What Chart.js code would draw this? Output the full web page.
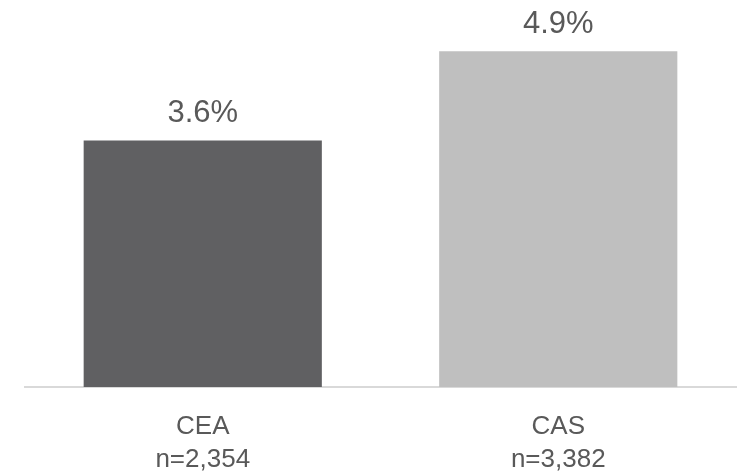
<!DOCTYPE html>
<html>
<head>
<meta charset="utf-8">
<script src="https://cdn.jsdelivr.net/npm/chart.js@4/dist/chart.umd.min.js"></script>
<style>
  html, body { margin: 0; padding: 0; background: #fff; }
  #wrap { width: 739px; height: 476px; position: relative; }
</style>
</head>
<body>
<div id="wrap"><canvas id="c"></canvas></div>
<script>
// categories (two-line tick labels) and values in percent
const categories = ["CEA", "CAS"];
const sampleSizes = ["n=2,354", "n=3,382"];
const shares = [3.6, 4.9];
const barColors = ["#606062", "#bfbfbf"];

const TEXT = "#595959";
const FONT = "'Liberation Sans', Arial, sans-serif";

/** Draw the "x.x%" value above each bar, using the bar elements' own positions. */
const valueLabels = {
  id: "valueLabels",
  afterDatasetsDraw(chart) {
    const { ctx } = chart;
    const meta = chart.getDatasetMeta(0);
    ctx.save();
    ctx.fillStyle = TEXT;
    ctx.font = "31px " + FONT;
    ctx.textAlign = "center";
    ctx.textBaseline = "alphabetic";
    meta.data.forEach((bar, i) => {
      ctx.fillText(shares[i].toFixed(1) + "%", bar.x, bar.y - 18);
    });
    ctx.restore();
  },
};

new Chart(document.getElementById("c"), {
  type: "bar",
  data: {
    labels: categories.map((c, i) => [c, sampleSizes[i]]),
    datasets: [
      {
        data: shares,
        backgroundColor: barColors,
        barPercentage: 0.67,
        categoryPercentage: 1,
      },
    ],
  },
  options: {
    responsive: true,
    maintainAspectRatio: false,
    animation: false,
    layout: { padding: { left: 25, right: 3, top: 0, bottom: -16 } },
    scales: {
      x: {
        grid: { display: false },
        border: { display: true, color: "#d9d9d9", width: 2 },
        ticks: {
          color: TEXT,
          font: { family: FONT, size: 26, lineHeight: 1.25 },
          padding: 16,
          maxRotation: 0,
        },
      },
      y: {
        display: false,
        min: 0,
        max: 5.65,
      },
    },
    plugins: {
      legend: { display: false },
      tooltip: { enabled: false },
    },
  },
  plugins: [valueLabels],
});
</script>
</body>
</html>
